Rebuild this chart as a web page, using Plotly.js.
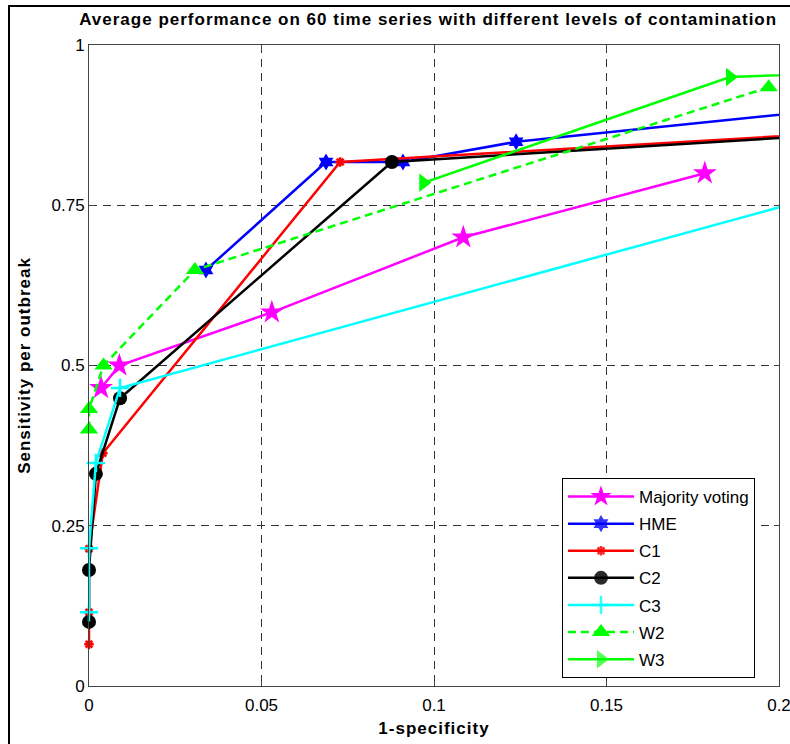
<!DOCTYPE html>
<html>
<head>
<meta charset="utf-8">
<script src="https://cdn.plot.ly/plotly-3.0.1.min.js"></script>
<style>
  html, body { margin: 0; padding: 0; background: #fff; overflow: hidden; }
  #wrap { position: relative; width: 790px; height: 744px; }
  #chart { width: 790px; height: 744px; }
  #frame { position: absolute; left: 8px; top: 5px; width: 800px; height: 760px;
           border-left: 2px solid #000; border-top: 2px solid #000; pointer-events: none; }
  .gtitle { letter-spacing: 1px; }
  .g-xtitle text, .g-ytitle text { letter-spacing: 1px; }
</style>
</head>
<body>
<div id="wrap">
  <div id="chart"></div>
  <div id="frame"></div>
</div>
<script>
// ---- data ----
const seriesNames = ["Majority voting", "HME", "C1", "C2", "C3", "W2", "W3"];

const mvX  = [0.0035, 0.0088, 0.0530, 0.1085, 0.1785];
const mvY  = [0.465, 0.500, 0.583, 0.700, 0.800];

const hmeX = [0.0339, 0.0687, 0.0910, 0.1238, 0.2300];
const hmeY = [0.649, 0.8175, 0.8175, 0.849, 0.908];

const c1X  = [0, 0, 0, 0.0040, 0.0728, 0.2300];
const c1Y  = [0.065, 0.115, 0.214, 0.363, 0.8175, 0.867];

const c2X  = [0, 0, 0.0020, 0.0090, 0.0878, 0.2300];
const c2Y  = [0.100, 0.181, 0.331, 0.449, 0.8175, 0.865];

const c3X  = [0, 0, 0.0020, 0.0090, 0.2300];
const c3Y  = [0.115, 0.215, 0.348, 0.465, 0.791];

const w2X  = [0, 0, 0.0042, 0.0307, 0.1970];
const w2Y  = [0.400, 0.432, 0.500, 0.649, 0.934];

const w3X  = [0.0969, 0.1858, 0.2300];
const w3Y  = [0.785, 0.950, 0.959];

const xTickVals = [0, 0.05, 0.1, 0.15, 0.2];
const xTickText = ["0", "0.05", "0.1", "0.15", "0.2"];
const yTickVals = [0, 0.25, 0.5, 0.75, 1];
const yTickText = ["0", "0.25", "0.5", "0.75", "1"];

const X_MAX = 0.2;

// ---- traces ----
const LW = 2.5;
function tr(name, x, y, color, symbol, size, lineW, dash) {
  return {
    type: "scatter", mode: "lines+markers", name: name, x: x, y: y,
    legendgroup: name, cliponaxis: false,
    line: { color: color, width: LW, dash: dash || "solid" },
    marker: {
      color: color, symbol: symbol, size: size,
      // points past the right edge of the axis only carry the line there
      opacity: x.map(v => (v <= X_MAX + 1e-9 ? 1 : 0)),
      line: { color: color, width: lineW || 0 }
    }
  };
}

const traces = [
  tr(seriesNames[0], mvX, mvY, "#ff00ff", "star", 18),
  tr(seriesNames[1], hmeX, hmeY, "#0000ff", "hexagram", 13),
  tr(seriesNames[2], c1X, c1Y, "#ff0000", "asterisk-open", 8, 2.5),
  tr(seriesNames[3], c2X, c2Y, "#000000", "circle", 14),
  tr(seriesNames[4], c3X, c3Y, "#00ffff", "cross-thin-open", 13, 2.5),
  tr(seriesNames[5], w2X, w2Y, "#00ff00", "triangle-up", 16, 0, "8px,5px"),
  tr(seriesNames[6], w3X, w3Y, "#00ff00", "triangle-right", 16)
];

const font = "Liberation Sans, Arial, Helvetica, sans-serif";

const layout = {
  width: 790, height: 744,
  paper_bgcolor: "#ffffff", plot_bgcolor: "#ffffff",
  margin: { l: 89, r: 11, t: 45, b: 58 },
  font: { family: font, size: 17, color: "#000" },
  title: {
    text: "<b>Average performance on 60 time series with different levels of contamination</b>",
    font: { family: font, size: 17, color: "#000" },
    x: 0.542, xref: "container", xanchor: "center",
    y: 1 - 19 / 744, yref: "container", yanchor: "middle"
  },
  xaxis: {
    range: [0, X_MAX], tickvals: xTickVals, ticktext: xTickText,
    showgrid: true, gridcolor: "#333", gridwidth: 1, griddash: "8px,6px",
    zeroline: false, showline: true, linecolor: "#444", linewidth: 1, mirror: "ticks",
    ticks: "inside", ticklen: 5, tickcolor: "#444",
    ticklabeloverflow: "allow", ticklabelstandoff: 4,
    tickfont: { family: font, size: 17 },
    title: { text: "<b>1-specificity</b>", font: { family: font, size: 17 }, standoff: 7 }
  },
  yaxis: {
    range: [0, 1], tickvals: yTickVals, ticktext: yTickText,
    showgrid: true, gridcolor: "#333", gridwidth: 1, griddash: "8px,6px",
    zeroline: false, showline: true, linecolor: "#444", linewidth: 1, mirror: "ticks",
    ticks: "inside", ticklen: 5, tickcolor: "#444",
    ticklabeloverflow: "allow",
    tickfont: { family: font, size: 17 },
    title: { text: "<b>Sensitivity per outbreak</b>", font: { family: font, size: 17 }, standoff: 16 }
  },
  showlegend: true,
  legend: {
    x: 0.6855, y: 0.3245, xanchor: "left", yanchor: "top",
    bgcolor: "#ffffff", bordercolor: "#000", borderwidth: 1,
    font: { family: font, size: 17, color: "#000" },
    traceorder: "grouped", tracegroupgap: 2,
    itemwidth: 66
  }
};

Plotly.newPlot("chart", traces, layout, { displayModeBar: false, staticPlot: true });
</script>
</body>
</html>
